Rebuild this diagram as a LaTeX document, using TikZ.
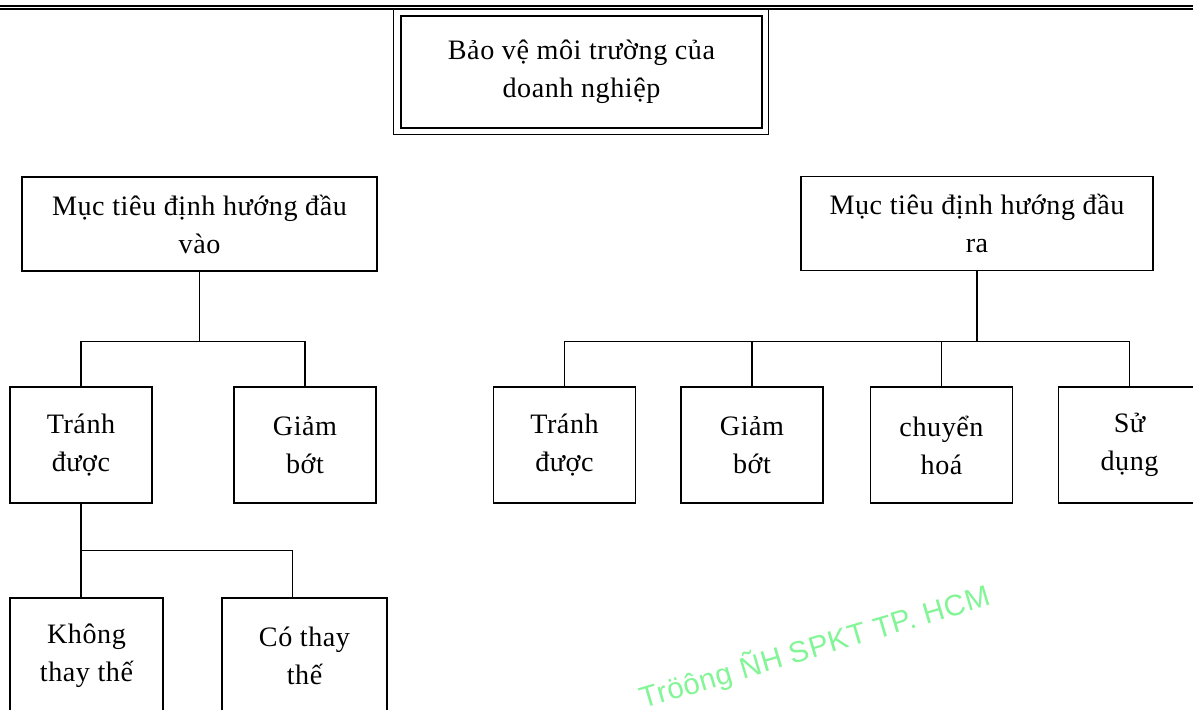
\documentclass[tikz,border=0pt]{standalone}
\usepackage{fontspec}
\setmainfont[LetterSpace=2]{Liberation Serif}
\newfontfamily\markfont[LetterSpace=2]{Liberation Sans}
\definecolor{markgreen}{RGB}{130,245,150}

\begin{document}
\begin{tikzpicture}[
  x=0.025cm, y=-0.025cm,
  box/.style={draw, line width=0.9pt, align=center, inner sep=0pt, font=\fontsize{20}{27}\selectfont},
  leaf/.style={box, minimum width=3.55cm, minimum height=2.9cm},
  wire/.style={line width=0.9pt}
]
\useasboundingbox (0,0) rectangle (1193,710);
\clip (0,0) rectangle (1193,710);
% rule at the top of the page
\draw[line width=1.6pt] (0,5.7) -- (1193,5.7);
\draw[line width=1.1pt] (0,8.8) -- (1193,8.8);

% main goal
\node[box, line width=2pt, minimum width=9.025cm, minimum height=2.8cm] (goal) at (581.5,72) {Bảo vệ môi trường của\\doanh nghiệp};
\draw[line width=1.1pt] ([shift={(-6,-6)}]goal.north west) rectangle ([shift={(5,5)}]goal.south east);

% input side
\node[box, minimum width=8.875cm, minimum height=2.35cm] (inL) at (199.5,224) {Mục tiêu định hướng đầu\\vào};
\node[leaf] (avoidL) at (81,445) {Tránh\\được};
\node[leaf] (reduceL) at (305,445) {Giảm\\bớt};
\node[box, minimum width=3.825cm, minimum height=2.9cm] (noSub) at (86.5,656) {Không\\thay thế};
\node[box, minimum width=4.125cm, minimum height=2.9cm] (yesSub) at (304.5,656) {Có thay\\thế};

% output side
\node[box, minimum width=8.8cm, minimum height=2.35cm] (outR) at (977,223.5) {Mục tiêu định hướng đầu\\ra};
\node[leaf] (avoidR) at (564.5,445) {Tránh\\được};
\node[leaf] (reduceR) at (752,445) {Giảm\\bớt};
\node[leaf] (convR) at (941.5,445) {chuyển\\hoá};
\node[leaf] (useR) at (1129.5,445) {Sử\\dụng};

% connectors
\draw[wire] (inL.south) -- ++(0,70) -| (avoidL.north);
\draw[wire] (inL.south) ++(0,70) -| (reduceL.north);
\draw[wire] (outR.south) -- ++(0,70) -| (avoidR.north);
\foreach \n in {reduceR, convR, useR}
  \draw[wire] (outR.south) ++(0,70) -| (\n.north);
\draw[wire] (avoidL.south) -- (noSub.north -| avoidL.south);
\draw[wire] (avoidL.south) ++(0,47) -| ([xshift=-0.3cm]yesSub.north);

% stamp
\node[font=\markfont\fontsize{21}{24}\selectfont, text=markgreen, rotate=16.6, anchor=base west, inner sep=0pt] (stamp) at (643,709) {Tröông ÑH SPKT TP. HCM};
\end{tikzpicture}
\end{document}
